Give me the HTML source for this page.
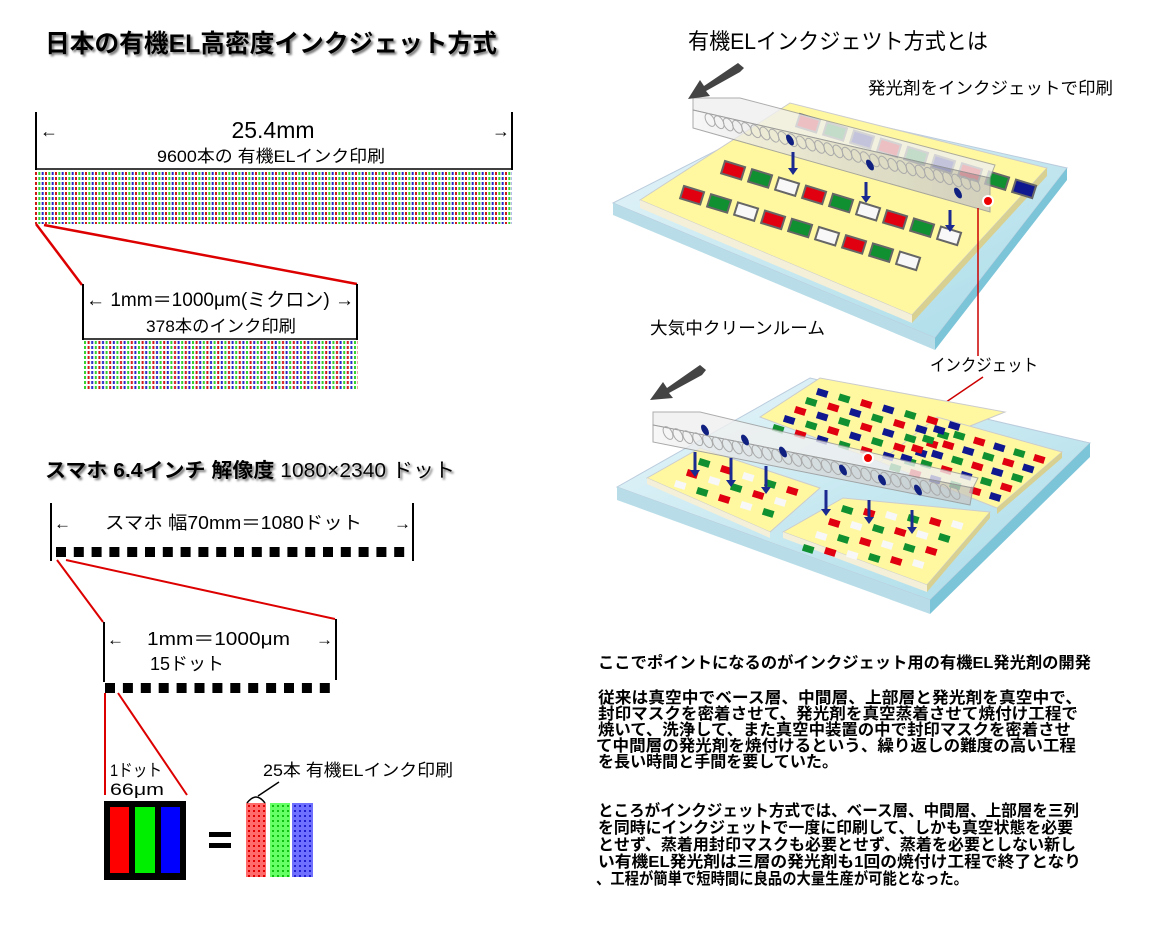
<!DOCTYPE html>
<html><head><meta charset="utf-8">
<style>
html,body{margin:0;padding:0;background:#fff;}
svg{display:block;}
text{font-family:"Liberation Sans","Noto Sans CJK JP",sans-serif;}
.b{font-weight:bold;}
</style></head>
<body>
<svg id="s" width="1156" height="932" viewBox="0 0 1156 932" xmlns="http://www.w3.org/2000/svg">
<defs>
<pattern id="p1" x="35" y="172" width="10" height="5" patternUnits="userSpaceOnUse">
<rect x="0" y="0" width="2" height="3" fill="#d01818"/>
<rect x="3.33" y="0" width="2" height="3" fill="#30d030"/>
<rect x="6.67" y="0" width="2" height="3" fill="#2828c8"/>
</pattern>
<pattern id="p2" x="84" y="341" width="10.8" height="5" patternUnits="userSpaceOnUse">
<rect x="0" y="0" width="2" height="3" fill="#30d030"/>
<rect x="3.6" y="0" width="2" height="3" fill="#d01818"/>
<rect x="7.2" y="0" width="2" height="3" fill="#2828c8"/>
</pattern>
<pattern id="pr" x="247" y="804" width="5" height="5" patternUnits="userSpaceOnUse"><rect width="5" height="5" fill="#ff6a6a"/><rect x="1" y="1" width="2" height="2" fill="#e00000"/></pattern>
<pattern id="pg" x="271" y="804" width="5" height="5" patternUnits="userSpaceOnUse"><rect width="5" height="5" fill="#66ff66"/><rect x="1" y="1" width="2" height="2" fill="#10c010"/></pattern>
<pattern id="pb" x="293" y="804" width="5" height="5" patternUnits="userSpaceOnUse"><rect width="5" height="5" fill="#7070ff"/><rect x="1" y="1" width="2" height="2" fill="#2020d0"/></pattern>
<linearGradient id="glass" x1="0" y1="0" x2="1" y2="1"><stop offset="0" stop-color="#e8f6fa"/><stop offset="1" stop-color="#a8dbe8"/></linearGradient>
<linearGradient id="bar" x1="0" y1="0" x2="1" y2="0"><stop offset="0" stop-color="#f4f4f4" stop-opacity=".9"/><stop offset=".5" stop-color="#d8d8d8" stop-opacity=".85"/><stop offset="1" stop-color="#c4c4c4" stop-opacity=".9"/></linearGradient>
<filter id="sh"><feDropShadow dx="2" dy="2" stdDeviation="1" flood-color="#777"/></filter>
</defs>

<!-- LEFT TOP -->
<text x="45" y="52" class="b" font-size="25" textLength="452" lengthAdjust="spacingAndGlyphs" filter="url(#sh)">日本の有機EL高密度インクジェット方式</text>
<line x1="36" y1="112" x2="36" y2="170" stroke="#000" stroke-width="2"/>
<line x1="512" y1="112" x2="512" y2="170" stroke="#000" stroke-width="2"/>
<line x1="36" y1="169" x2="512" y2="169" stroke="#000" stroke-width="1.5"/>
<text x="40" y="137" font-size="18">←</text>
<text x="492" y="137" font-size="18">→</text>
<text x="273" y="138" font-size="23" text-anchor="middle">25.4mm</text>
<text x="271" y="162" font-size="17" text-anchor="middle" textLength="228" lengthAdjust="spacingAndGlyphs">9600本の 有機ELインク印刷</text>
<rect x="35" y="172" width="477" height="52" fill="url(#p1)"/>
<line x1="36" y1="224" x2="82" y2="285" stroke="#d00" stroke-width="2.5"/>
<line x1="44" y1="225" x2="357" y2="284" stroke="#d00" stroke-width="2.5"/>
<line x1="83" y1="284" x2="83" y2="340" stroke="#000" stroke-width="2"/>
<line x1="357" y1="284" x2="357" y2="340" stroke="#000" stroke-width="2"/>
<line x1="83" y1="339" x2="357" y2="339" stroke="#000" stroke-width="1.5"/>
<text x="86" y="306" font-size="19" textLength="268" lengthAdjust="spacingAndGlyphs">← 1mm＝1000μm(ミクロン) →</text>
<text x="221" y="332" font-size="17" text-anchor="middle" textLength="150" lengthAdjust="spacingAndGlyphs">378本のインク印刷</text>
<rect x="84" y="341" width="274" height="48" fill="url(#p2)"/>

<!-- LEFT BOTTOM -->
<text x="45" y="477" font-size="20" textLength="410" lengthAdjust="spacingAndGlyphs" filter="url(#sh)"><tspan class="b">スマホ 6.4インチ 解像度</tspan> 1080×2340 ドット</text>
<line x1="51" y1="503" x2="51" y2="561" stroke="#000" stroke-width="2"/>
<line x1="413" y1="503" x2="413" y2="561" stroke="#000" stroke-width="2"/>
<text x="54" y="529" font-size="17">←</text>
<text x="394" y="529" font-size="17">→</text>
<text x="105" y="529" font-size="18" textLength="257" lengthAdjust="spacingAndGlyphs">スマホ  幅70mm＝1080ドット</text>
<g id="sq1"></g>
<line x1="57" y1="560" x2="103" y2="622" stroke="#d00" stroke-width="2"/>
<line x1="66" y1="560" x2="335" y2="619" stroke="#d00" stroke-width="2"/>
<line x1="104" y1="622" x2="104" y2="682" stroke="#000" stroke-width="2"/>
<line x1="336" y1="619" x2="336" y2="680" stroke="#000" stroke-width="2"/>
<text x="107" y="645" font-size="17">←</text>
<text x="316" y="645" font-size="17">→</text>
<text x="147" y="645" font-size="18" textLength="143" lengthAdjust="spacingAndGlyphs">1mm＝1000μm</text>
<text x="150" y="670" font-size="18" textLength="74" lengthAdjust="spacingAndGlyphs">15ドット</text>
<g id="sq2"></g>
<line x1="105" y1="693" x2="105" y2="795" stroke="#d00" stroke-width="2"/>
<line x1="118" y1="693" x2="187" y2="795" stroke="#d00" stroke-width="2"/>
<text x="110" y="776" font-size="17" textLength="52" lengthAdjust="spacingAndGlyphs">1ドット</text>
<text x="110" y="795" font-size="17" textLength="54" lengthAdjust="spacingAndGlyphs">66μm</text>
<rect x="104" y="801" width="82" height="79" fill="#000"/>
<rect x="110" y="807" width="19" height="66" fill="#f00"/>
<rect x="135" y="807" width="20" height="66" fill="#0e0"/>
<rect x="161" y="807" width="19" height="66" fill="#00f"/>
<rect x="209" y="832" width="22" height="5" fill="#000"/>
<rect x="209" y="843" width="22" height="5" fill="#000"/>
<rect x="246" y="803" width="20" height="74" fill="url(#pr)"/>
<rect x="270" y="803" width="20" height="74" fill="url(#pg)"/>
<rect x="292" y="803" width="21" height="74" fill="url(#pb)"/>
<path d="M247 803 Q256 791 265 803" fill="none" stroke="#000" stroke-width="1.5"/>
<line x1="258" y1="796" x2="279" y2="782" stroke="#000" stroke-width="1.5"/>
<text x="263" y="776" font-size="17" textLength="190" lengthAdjust="spacingAndGlyphs">25本 有機ELインク印刷</text>

<!-- RIGHT TITLE -->
<text x="688" y="49" font-size="22" textLength="300" lengthAdjust="spacingAndGlyphs">有機ELインクジェツト方式とは</text>
<text x="868" y="94" font-size="17" textLength="245" lengthAdjust="spacingAndGlyphs">発光剤をインクジェットで印刷</text>

<!-- TOP ILLUSTRATION -->
<polygon points="613,203 800,108 1067,168 935,338" fill="url(#glass)" stroke="#bcd" />
<polygon points="613,203 935,338 935,350 613,215" fill="#b8dde8"/>
<polygon points="935,338 1067,168 1067,180 935,350" fill="#7cc4d8"/>
<polygon points="640,200 790,103 1047,168 912,315" fill="#fff8a0" stroke="#ccc" stroke-width="1"/>
<polygon points="640,200 912,315 912,323 640,208" fill="#f4efd8"/>
<polygon points="912,315 1047,168 1047,176 912,323" fill="#d8d090"/>
<g id="cellsTop"></g>
<polygon points="693,98 740,98 995,165 990,178 693,110" fill="#f0f0f0" stroke="#999" stroke-width="1" opacity=".8"/>
<polygon points="693,110 990,178 990,212 693,128" fill="url(#bar)" stroke="#999" stroke-width="1" opacity=".85"/>
<g id="noz1"></g>
<circle cx="988" cy="201" r="5" fill="#e00" stroke="#fff" stroke-width="2"/>
<line x1="978" y1="208" x2="978" y2="356" stroke="#c00" stroke-width="1.5"/>
<polygon points="744,68 738,63 704,86 700,80 688,99 710,96 706,91 740,72" fill="#444"/>
<text x="650" y="334" font-size="17" textLength="175" lengthAdjust="spacingAndGlyphs">大気中クリーンルーム</text>
<text x="930" y="371" font-size="17" textLength="108" lengthAdjust="spacingAndGlyphs">インクジェット</text>
<line x1="983" y1="377" x2="868" y2="455" stroke="#c00" stroke-width="1.5"/>

<!-- BOTTOM ILLUSTRATION -->
<polygon points="617,487 810,378 1090,443 930,600" fill="url(#glass)" stroke="#bcd"/>
<polygon points="617,487 930,600 930,614 617,500" fill="#b8dde8"/>
<polygon points="930,600 1090,443 1090,457 930,614" fill="#7cc4d8"/>
<polygon points="760,417 820,378 1005,412 880,462" fill="#fff8a0" stroke="#ccc"/>
<polygon points="880,462 937,417 1062,452 997,508" fill="#fff8a0" stroke="#ccc"/>
<polygon points="997,508 1062,452 1062,458 997,514" fill="#d8d090"/>
<polygon points="647,478 700,448 820,488 770,532" fill="#fff8a0" stroke="#ccc"/>
<polygon points="647,478 770,532 770,538 647,484" fill="#f4efd8"/>
<polygon points="783,532 843,498 990,512 927,585" fill="#fff8a0" stroke="#ccc"/>
<polygon points="783,532 927,585 927,592 783,538" fill="#f4efd8"/>
<polygon points="927,585 990,512 990,518 927,592" fill="#d8d090"/>
<g id="cellsBot"></g>
<polygon points="653,412 700,412 978,478 973,488 653,425" fill="#f0f0f0" stroke="#999" opacity=".8"/>
<polygon points="653,425 973,488 970,505 653,442" fill="url(#bar)" stroke="#999" opacity=".85"/>
<g id="noz2"></g>
<circle cx="868" cy="458" r="5" fill="#e00" stroke="#fff" stroke-width="2"/>
<polygon points="706,370 700,365 667,388 663,382 650,400 673,398 669,393 702,375" fill="#444"/>
<g id="arrows"></g>

<!-- RIGHT TEXT -->
<g class="b" font-size="16">
<text x="598" y="668" textLength="493" lengthAdjust="spacingAndGlyphs">ここでポイントになるのがインクジェット用の有機EL発光剤の開発</text>
<text x="598" y="703" textLength="484" lengthAdjust="spacingAndGlyphs">従来は真空中でベース層、中間層、上部層と発光剤を真空中で、</text>
<text x="598" y="719" textLength="480" lengthAdjust="spacingAndGlyphs">封印マスクを密着させて、発光剤を真空蒸着させて焼付け工程で</text>
<text x="598" y="735" textLength="473" lengthAdjust="spacingAndGlyphs">焼いて、洗浄して、また真空中装置の中で封印マスクを密着させ</text>
<text x="596" y="751" textLength="480" lengthAdjust="spacingAndGlyphs">て中間層の発光剤を焼付けるという、繰り返しの難度の高い工程</text>
<text x="598" y="767" textLength="240" lengthAdjust="spacingAndGlyphs">を長い時間と手間を要していた。</text>
<text x="598" y="816" textLength="481" lengthAdjust="spacingAndGlyphs">ところがインクジェット方式では、ベース層、中間層、上部層を三列</text>
<text x="598" y="833" textLength="475" lengthAdjust="spacingAndGlyphs">を同時にインクジェットで一度に印刷して、しかも真空状態を必要</text>
<text x="598" y="850" textLength="478" lengthAdjust="spacingAndGlyphs">とせず、蒸着用封印マスクも必要とせず、蒸着を必要としない新し</text>
<text x="598" y="867" textLength="483" lengthAdjust="spacingAndGlyphs">い有機EL発光剤は三層の発光剤も1回の焼付け工程で終了となり</text>
<text x="596" y="884" textLength="372" lengthAdjust="spacingAndGlyphs">、工程が簡単で短時間に良品の大量生産が可能となった。</text>
</g>
</svg>
<script>
var NS="http://www.w3.org/2000/svg";
function el(parent,tag,attrs){var e=document.createElementNS(NS,tag);for(var k in attrs)e.setAttribute(k,attrs[k]);document.getElementById(parent).appendChild(e);return e;}
for(var i=0;i<20;i++)el("sq1","rect",{x:56+i*17.8,y:547,width:10,height:10,fill:"#000"});
for(var i=0;i<13;i++)el("sq2","rect",{x:105+i*17.9,y:683,width:10,height:10,fill:"#000"});
var C={R:"#e00010",G:"#109030",B:"#101890",W:"#f8f8f8"};
function cell(g,x,y,w,h,c,stroke){
 var ax=0.956,ay=0.292,bx=-0.3,by=0.95;
 var pts=[x,y,x+ax*w,y+ay*w,x+ax*w+bx*h,y+ay*w+by*h,x+bx*h,y+by*h];
 el(g,"polygon",{points:pts.join(","),fill:C[c],stroke:stroke||"none","stroke-width":2});
}
var rows=[[800,114,"RGBRGBRGB"],[725,161,"RGWRGWRGW"],[684,186,"RGWRGWRGW"]];
rows.forEach(function(r){for(var i=0;i<r[2].length;i++)cell("cellsTop",r[0]+i*27,r[1]+i*8.2,21,13,r[2][i],"#666");});
function grid(x,y,nr,nc,pat,dx,dy,rx,ry){for(var j=0;j<nr;j++)for(var i=0;i<nc;i++){var c=pat[(i+j)%pat.length];cell("cellsBot",x+i*dx+j*rx,y+i*dy+j*ry,11,7,c);}}
grid(818,388,5,7,"BGR",22,5.5,-11,9);
grid(935,425,5,6,"BGR",20,5.8,-11,9.5);
grid(700,458,3,5,"GRW",22,7,-12,11);
grid(843,505,4,6,"GRW",22,3,-13,13);
function noz(g,x0,y0,x1,y1,n){for(var i=0;i<n;i++){var t=i/(n-1);var cx=x0+(x1-x0)*t,cy=y0+(y1-y0)*t;el(g,"ellipse",{cx:cx,cy:cy,rx:4,ry:7,fill:"none",stroke:"#aaa","stroke-width":1,transform:"rotate(-30 "+cx+" "+cy+")"});}}
noz("noz1",710,120,975,185,30);
noz("noz2",668,433,955,493,30);
[[790,140],[870,165],[958,193]].forEach(function(p){el("noz1","ellipse",{cx:p[0],cy:p[1],rx:3,ry:6,fill:"#102080",transform:"rotate(-30 "+p[0]+" "+p[1]+")"});});
[[705,430],[745,440],[783,452],[843,470],[882,480],[918,490]].forEach(function(p){el("noz2","ellipse",{cx:p[0],cy:p[1],rx:3,ry:6,fill:"#102080",transform:"rotate(-30 "+p[0]+" "+p[1]+")"});});
function arr(x,y1,y2){el("arrows","line",{x1:x,y1:y1,x2:x,y2:y2-5,stroke:"#1a2a90","stroke-width":3});el("arrows","polygon",{points:(x-5)+","+(y2-7)+" "+(x+5)+","+(y2-7)+" "+x+","+y2,fill:"#1a2a90"});}
[[793,152,175],[866,182,203],[950,210,232],[695,452,477],[731,458,487],[766,466,494],[826,490,516],[869,500,524],[912,510,534]].forEach(function(a){arr(a[0],a[1],a[2]);});
</script>
</body></html>
